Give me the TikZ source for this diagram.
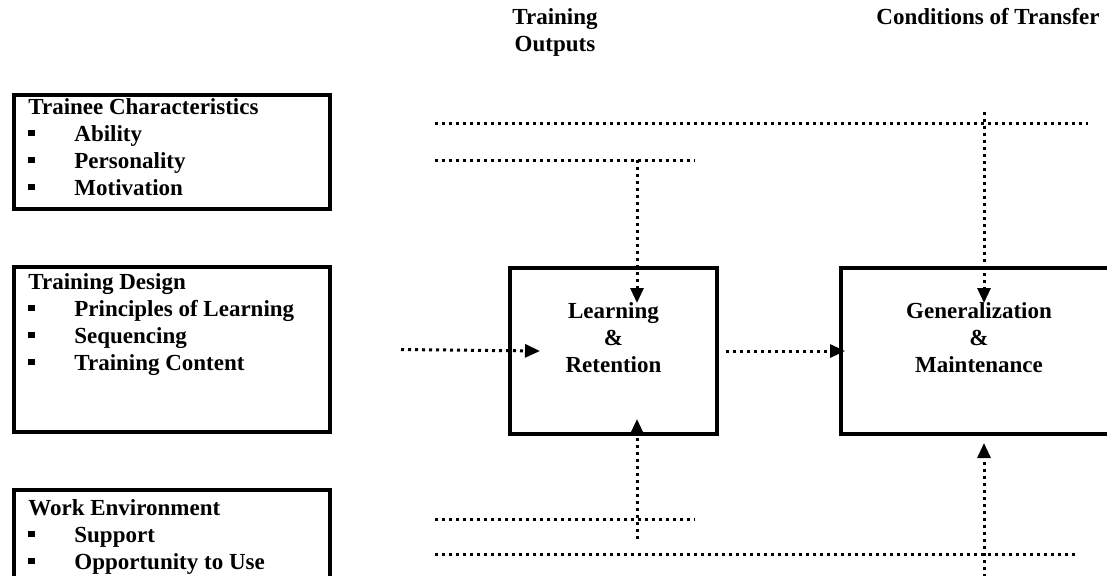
\documentclass[tikz,border=0pt]{standalone}
\usepackage{fontspec}
\setmainfont{Liberation Serif}
\usetikzlibrary{arrows.meta,positioning,calc}
\newcommand{\sqbul}{\makebox[23pt][l]{\rule[2.5pt]{3.2pt}{3.2pt}}}

\begin{document}
\begin{tikzpicture}[x=0.5pt,y=-0.5pt,
  font=\fontsize{11.5}{13.5}\selectfont\bfseries,
  frame/.style={draw,line width=2pt,inner sep=0pt,anchor=north west},
  lst/.style={align=left,inner sep=0pt,anchor=north west},
  mid/.style={align=center,inner sep=0pt,anchor=north},
  dotln/.style={line width=1.5pt,dash pattern=on 1.5pt off 2pt},
  arr/.style={dotln,-{Triangle[length=7.5pt,width=6.5pt]}}]
  \useasboundingbox (0,0) rectangle (1107,575);
  % headings
  \node[mid] (outhead) at (555,8) {Training\\Outputs};
  \node[mid,anchor=north east] (transhead) at (1100,8) {Conditions of Transfer};
  % inputs
  \node[frame,minimum width=158pt,minimum height=57pt] (trainee) at (12,93) {};
  \node[frame,minimum width=158pt,minimum height=82.5pt] (design) at (12,265) {};
  \node[frame,minimum width=158pt,minimum height=66pt] (workenv) at (12,488) {};
  \node[lst] (trainee-txt) at (28,98)
    {Trainee Characteristics\\ \sqbul Ability\\ \sqbul Personality\\ \sqbul Motivation};
  \node[lst] (design-txt) at (28,273)
    {Training Design\\ \sqbul Principles of Learning\\ \sqbul Sequencing\\ \sqbul Training Content};
  \node[lst] (workenv-txt) at (28,499)
    {Work Environment\\ \sqbul Support\\ \sqbul Opportunity to Use};
  % outputs
  \node[frame,minimum width=103.5pt,minimum height=83pt] (learn) at (508,266) {};
  \node[frame,minimum width=138pt,minimum height=83pt] (general) at (839,266) {};
  \node[mid] (learn-txt) at ([yshift=-18pt]learn.north) {Learning\\\&\\Retention};
  \node[mid] (general-txt) at ([yshift=-18pt]general.north) {Generalization\\\&\\Maintenance};
  % dotted links
  \coordinate (t1a) at (435,123); \coordinate (t1b) at (1088,123);
  \coordinate (t2a) at (435,160); \coordinate (t2b) at (695,160);
  \coordinate (b1a) at (435,519); \coordinate (b1b) at (695,519);
  \coordinate (b2a) at (435,554); \coordinate (b2b) at (1075,554);
  \draw[dotln] (t1a) -- (t1b);
  \draw[dotln] (t2a) -- (t2b);
  \draw[dotln] (b1a) -- (b1b);
  \draw[dotln] (b2a) -- (b2b);
  \coordinate (lrn-top) at ([xshift=11.75pt,yshift=-18.5pt]learn.north);
  \coordinate (lrn-bot) at ([xshift=11.75pt,yshift=8.5pt]learn.south);
  \coordinate (gen-top) at ([xshift=2.5pt,yshift=-18.5pt]general.north);
  \coordinate (gen-bot) at ([xshift=2.5pt,yshift=-3.5pt]general.south);
  \draw[arr] (lrn-top |- t2a) -- (lrn-top);
  \draw[arr] ([yshift=-60pt]lrn-bot) -- (lrn-bot);
  \draw[arr] ([yshift=95.5pt]gen-top) -- (gen-top);
  \draw[arr] ([yshift=-70.5pt]gen-bot) -- (gen-bot);
  \draw[arr] ([xshift=34.5pt]design.east) -- ([xshift=16pt]learn.west);
  \draw[arr] ([xshift=3.5pt]learn.east) -- ([xshift=3pt]general.west);
\end{tikzpicture}
\end{document}
